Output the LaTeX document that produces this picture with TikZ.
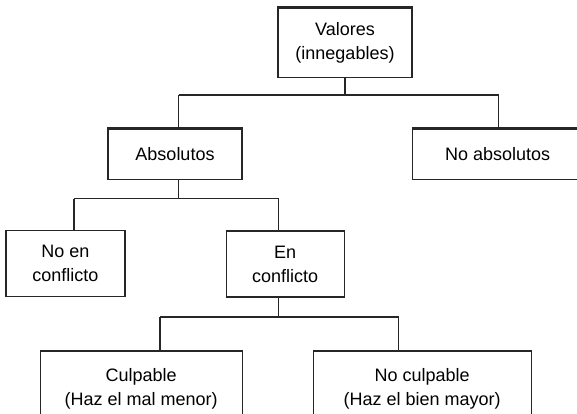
\documentclass[tikz,border=0pt]{standalone}
\usepackage{fontspec}
\setmainfont{Liberation Sans}
\tikzset{
  valbox/.style={draw=black!85, line width=1.4pt, align=center, inner sep=0pt,
    font=\fontsize{18}{24}\selectfont},
  topedge/.style={draw=black!85, line width=3pt},
  bus/.style={draw=black!85, line width=1.4pt}
}
\begin{document}
\begin{tikzpicture}[x=1pt,y=-1pt]
      \useasboundingbox (0,0) rectangle (577,414);
      \clip (0,0) rectangle (577,414);
      \node[valbox, minimum width=134pt, minimum height=69pt] (valores) at (345,42.8) {Valores\\(innegables)};
      \node[valbox, minimum width=134pt, minimum height=50pt] (abs) at (175,154.2) {Absolutos};
      \node[valbox, minimum width=171pt, minimum height=50pt] (noabs) at (497.7,154.2) {No absolutos};
      \node[valbox, minimum width=119pt, minimum height=66pt] (noen) at (65.4,263.7) {No en\\conflicto};
      \node[valbox, minimum width=118pt, minimum height=66pt] (enconf) at (285.2,263.9) {En\\conflicto};
      \node[valbox, minimum width=202pt, minimum height=75pt] (culp) at (141.2,388.5) {Culpable\\(Haz el mal menor)};
      \node[valbox, minimum width=218pt, minimum height=75pt] (noculp) at (422.2,388.5) {No culpable\\(Haz el bien mayor)};
      \foreach \n in {valores,abs,noabs}
        \draw[topedge] (\n.north west) -- (\n.north east);
      \coordinate (b1l) at (178.5,95);
      \coordinate (b1r) at (498.5,95);
      \coordinate (b2l) at (74,198.5);
      \coordinate (b2r) at (278.5,198.5);
      \coordinate (b3l) at (160,317);
      \coordinate (b3r) at (398.5,317);
      \begin{scope}[bus]
        \draw (valores.south) to (valores.south |- b1l);
        \draw (b1l) to (b1r);
        \draw (b1l) to (b1l |- abs.north);
        \draw (b1r) to (b1r |- noabs.north);
        \draw (b1l |- abs.south) to (b1l |- b2l);
        \draw (b2l) to (b2r);
        \draw (b2l) to (b2l |- noen.north);
        \draw (b2r) to (b2r |- enconf.north);
        \draw (b2r |- enconf.south) to (b2r |- b3l);
        \draw (b3l) to (b3r);
        \draw (b3l) to (b3l |- culp.north);
        \draw (b3r) to (b3r |- noculp.north);
      \end{scope}
    \end{tikzpicture}
\end{document}
